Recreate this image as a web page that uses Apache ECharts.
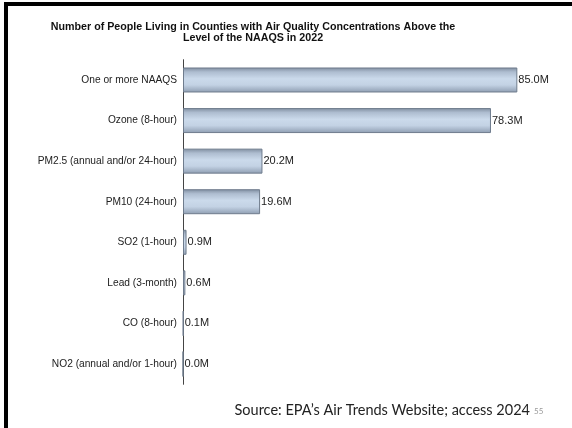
<!DOCTYPE html>
<html>
<head>
<meta charset="utf-8">
<script src="https://cdn.jsdelivr.net/npm/echarts@6/dist/echarts.min.js"></script>
<style>
  html, body { margin: 0; padding: 0; background: #fff; }
  #chart { width: 572px; height: 428px; }
</style>
</head>
<body>
<div id="chart"></div>
<script>
// Pollutant standards (top to bottom) and people living above each level, in millions
const categories = [
  'One or more NAAQS',
  'Ozone (8-hour)',
  'PM2.5 (annual and/or 24-hour)',
  'PM10 (24-hour)',
  'SO2 (1-hour)',
  'Lead (3-month)',
  'CO (8-hour)',
  'NO2 (annual and/or 1-hour)'
];
const peopleMillions = [85.0, 78.3, 20.2, 19.6, 0.9, 0.6, 0.1, 0.0];

const titleLines = [
  'Number of People Living in Counties with Air Quality Concentrations Above the',
  'Level of the NAAQS in 2022'
];
const sourceText = 'Source: EPA\u2019s Air Trends Website; access 2024';
const slideNumber = '55';

const chart = echarts.init(document.getElementById('chart'), null, { renderer: 'canvas' });

const barFill = new echarts.graphic.LinearGradient(0, 0, 0, 1, [
  { offset: 0, color: '#7e8c9e' },
  { offset: 0.18, color: '#aebdd0' },
  { offset: 0.45, color: '#cbdaeb' },
  { offset: 0.7, color: '#c3d2e4' },
  { offset: 1, color: '#8e9db1' }
]);

chart.setOption({
  animation: false,
  backgroundColor: '#ffffff',
  title: {
    text: titleLines.join('\n'),
    left: 248,
    top: 17,
    textAlign: 'center',
    textStyle: {
      fontFamily: 'Liberation Sans',
      fontSize: 10.7,
      fontWeight: 'bold',
      color: '#111',
      lineHeight: 10.5
    }
  },
  grid: {
    left: 183,
    top: 59.7,
    width: 354,
    height: 324.6,
    containLabel: false
  },
  xAxis: {
    type: 'value',
    min: 0,
    max: 90,
    show: false
  },
  yAxis: {
    type: 'category',
    data: categories,
    inverse: true,
    axisLine: { show: true, lineStyle: { color: '#444', width: 1 } },
    axisTick: { show: false },
    axisLabel: {
      margin: 6,
      fontFamily: 'Liberation Sans',
      fontSize: 10.2,
      color: '#222'
    }
  },
  series: [{
    type: 'bar',
    data: peopleMillions,
    barWidth: 25,
    itemStyle: {
      color: barFill,
      borderColor: '#6f7c8d',
      borderWidth: 1
    },
    label: {
      show: true,
      position: 'right',
      distance: 1,
      fontFamily: 'Liberation Sans',
      fontSize: 11,
      color: '#222',
      formatter: p => p.value.toFixed(1) + 'M'
    }
  }],
  graphic: [
    // slide frame
    { type: 'rect', shape: { x: 4, y: 2, width: 4, height: 426 }, style: { fill: '#000' } },
    { type: 'rect', shape: { x: 4, y: 2, width: 568, height: 4 }, style: { fill: '#000' } },
    {
      type: 'text',
      x: 530, y: 410,
      style: {
        text: sourceText,
        textAlign: 'right',
        textVerticalAlign: 'middle',
        fontFamily: 'Lato',
        fontSize: 14.5,
        fill: '#222'
      }
    },
    {
      type: 'text',
      x: 534, y: 411,
      style: {
        text: slideNumber,
        textAlign: 'left',
        textVerticalAlign: 'middle',
        fontFamily: 'Lato',
        fontSize: 8,
        fill: '#999'
      }
    }
  ]
});
</script>
</body>
</html>
